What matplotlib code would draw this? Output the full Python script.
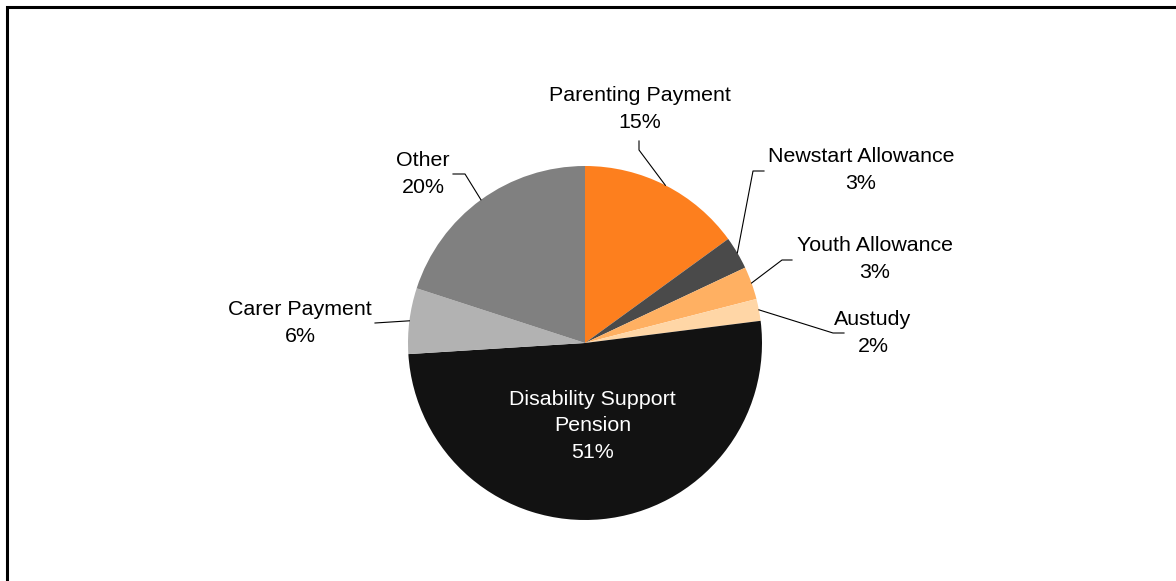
"""Composição dos beneficiários por tipo de pagamento (gráfico de pizza)."""

import matplotlib.pyplot as plt
import numpy as np
from matplotlib.lines import Line2D

plt.rcParams["font.family"] = ["Liberation Sans", "DejaVu Sans"]

categorias = [
    "Parenting Payment",
    "Newstart Allowance",
    "Youth Allowance",
    "Austudy",
    "Disability Support\nPension",
    "Carer Payment",
    "Other",
]
percentuais = [15, 3, 3, 2, 51, 6, 20]
cores = ["#FD7F1E", "#4A4A4A", "#FFB062", "#FFD6A6", "#121212", "#B2B2B2", "#808080"]

W, H = 1176, 581
fig = plt.figure(figsize=(W / 100, H / 100), dpi=100)
ax = fig.add_axes([0, 0, 1, 1])

# coordenadas em pixels, origem no topo (convertidas para o eixo)
cx, cy, raio = 585, 343, 177
fatias, _ = ax.pie(percentuais, colors=cores, startangle=90, counterclock=False,
                   center=(cx, H - cy), radius=raio, frame=True,
                   wedgeprops=dict(linewidth=0))
ax.set_xlim(0, W)
ax.set_ylim(0, H)
ax.axis("off")

# posição do texto e pontos da linha de chamada (pixels, origem no topo)
rotulos = {
    0: ((640, 109), [(639, 150), (639, 141)]),
    1: ((861, 170), [(753, 171), (764, 171)]),
    2: ((875, 259), [(782, 260), (792, 260)]),
    3: ((873, 333), [(833, 333), (844, 333)]),
    5: ((300, 323), [(375, 323)]),
    6: ((423, 174), [(465, 174), (453, 174)]),
}

for i, (nome, valor, fatia) in enumerate(zip(categorias, percentuais, fatias)):
    ang = np.deg2rad((fatia.theta1 + fatia.theta2) / 2)
    texto = f"{nome}\n{valor}%"
    if i in rotulos:
        (tx, ty), cotovelo = rotulos[i]
        px = cx + raio * np.cos(ang)
        py = (H - cy) + raio * np.sin(ang)
        xs = [px] + [p[0] for p in cotovelo]
        ys = [py] + [H - p[1] for p in cotovelo]
        ax.plot(xs, ys, color="black", linewidth=0.8)
        ax.text(tx, H - ty, texto, ha="center", va="center", fontsize=15.4,
                linespacing=1.5, color="black")
    else:
        d = 0.47 * raio
        ax.text(cx + d * np.cos(ang), (H - cy) + d * np.sin(ang), texto,
                ha="center", va="center", fontsize=15.4, linespacing=1.5,
                color="white")

# moldura (só as bordas superior e esquerda aparecem no recorte)
fig.add_artist(Line2D([6.5 / W, 6.5 / W, 1], [0, 1 - 6.5 / H, 1 - 6.5 / H],
                      color="black", linewidth=2.2, solid_joinstyle="miter",
                      transform=fig.transFigure))

fig.savefig("out.png", dpi=100, facecolor="white")
plt.close(fig)
